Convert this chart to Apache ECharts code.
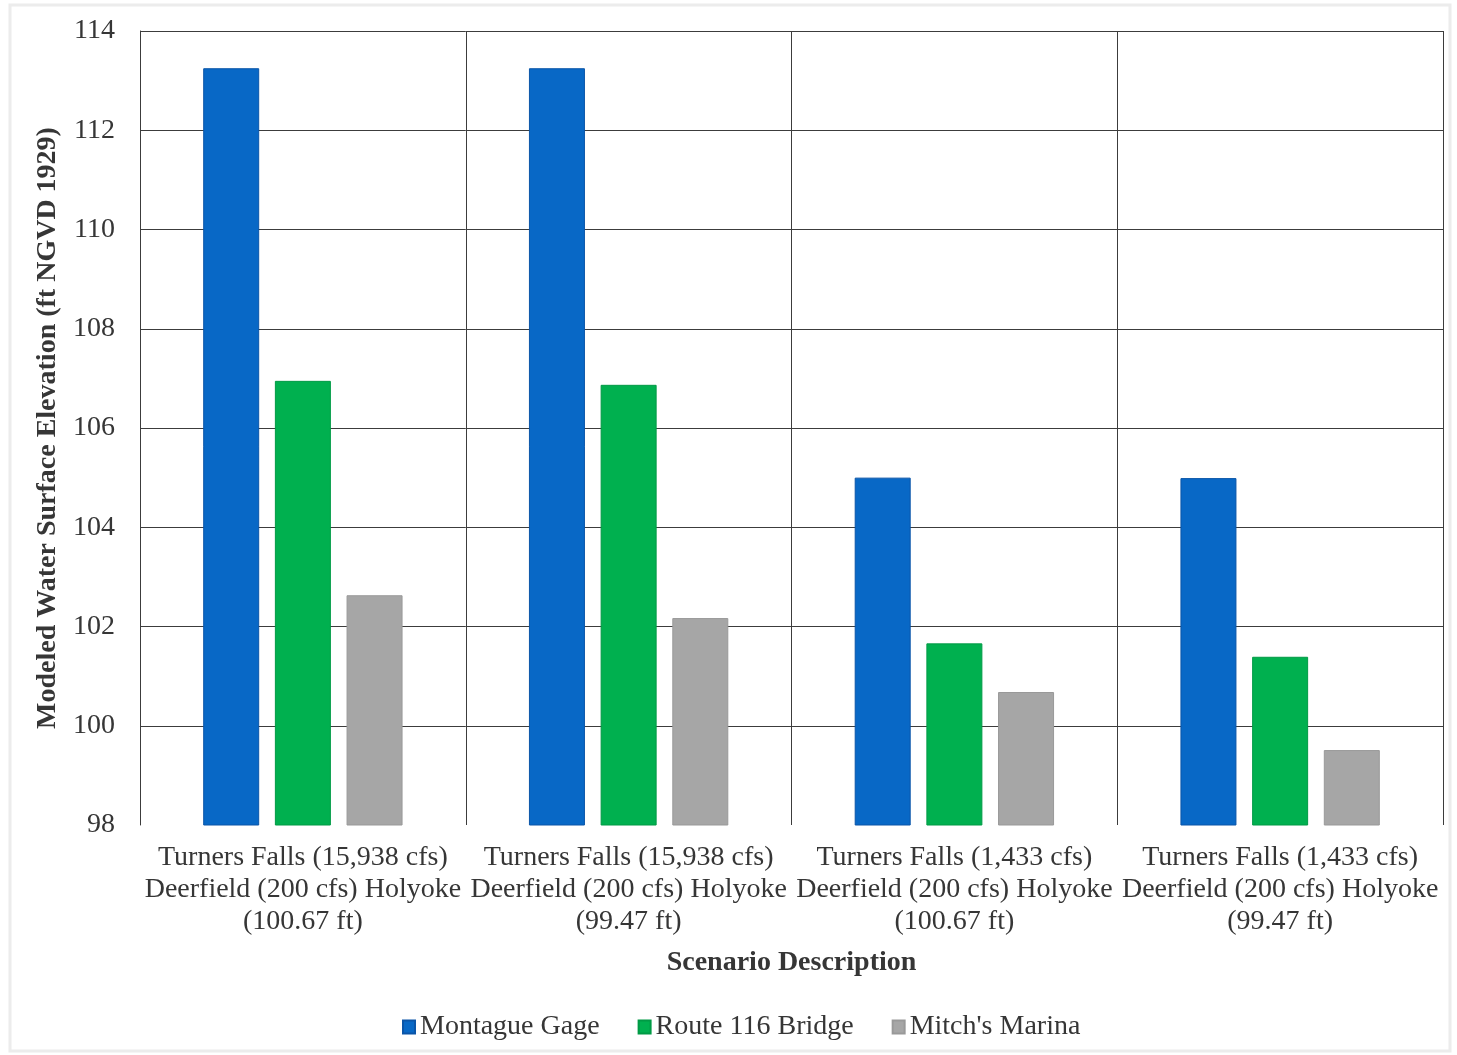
<!DOCTYPE html>
<html>
<head>
<meta charset="utf-8">
<script src="https://cdn.jsdelivr.net/npm/echarts@6/dist/echarts.min.js"></script>
<style>
  html, body { margin: 0; padding: 0; background: #ffffff; }
  #chart { width: 1457px; height: 1055px; }
</style>
</head>
<body>
<div id="chart"></div>
<script>
// Scenario labels (one per group of bars)
const categories = [
  'Turners Falls (15,938 cfs)\nDeerfield (200 cfs) Holyoke\n(100.67 ft)',
  'Turners Falls (15,938 cfs)\nDeerfield (200 cfs) Holyoke\n(99.47 ft)',
  'Turners Falls (1,433 cfs)\nDeerfield (200 cfs) Holyoke\n(100.67 ft)',
  'Turners Falls (1,433 cfs)\nDeerfield (200 cfs) Holyoke\n(99.47 ft)'
];

// Modeled water surface elevations (ft NGVD 1929)
const montagueGage = [113.25, 113.25, 105.0, 104.99];
const route116Bridge = [106.95, 106.87, 101.66, 101.39];
const mitchsMarina = [102.63, 102.17, 100.68, 99.51];

const seriesNames = ['Montague Gage', 'Route 116 Bridge', "Mitch's Marina"];

const FONT = '"Liberation Serif", "Times New Roman", serif';
const TEXT = '#363636';
const GRID = '#3c3c3c';

const chart = echarts.init(document.getElementById('chart'), null, { renderer: 'canvas' });

// hide the bottom (98) gridline, keep the rest
const splitColors = ['rgba(0,0,0,0)', GRID, GRID, GRID, GRID, GRID, GRID, GRID, GRID];

function barSeries(name, data, color, border) {
  return {
    name: name,
    type: 'bar',
    data: data,
    barWidth: 56,
    barGap: '28%',
    itemStyle: { color: color, borderColor: border, borderWidth: 1 }
  };
}

chart.setOption({
  backgroundColor: '#ffffff',
  animation: false,
  textStyle: { fontFamily: FONT },
  graphic: [{
    type: 'rect',
    shape: { x: 10, y: 5, width: 1440, height: 1046 },
    style: { fill: 'none', stroke: '#ececec', lineWidth: 3 },
    silent: true,
    z: -10
  }],
  grid: { left: 140, right: 14, top: 31, bottom: 230, containLabel: false },
  legend: {
    left: 397,
    top: 1008,
    itemWidth: 12,
    itemHeight: 13,
    itemGap: 38,
    icon: 'rect',
    textStyle: { fontFamily: FONT, fontSize: 28, color: TEXT },
    data: seriesNames
  },
  xAxis: {
    type: 'category',
    data: categories,
    name: 'Scenario Description',
    nameLocation: 'middle',
    nameGap: 124,
    nameTextStyle: { fontFamily: FONT, fontSize: 28, fontWeight: 'bold', color: TEXT },
    axisLine: { show: false },
    axisTick: { show: false },
    splitLine: { show: true, lineStyle: { color: GRID, width: 1 } },
    axisLabel: {
      fontFamily: FONT,
      fontSize: 28,
      lineHeight: 32,
      color: TEXT,
      margin: 17,
      interval: 0
    }
  },
  yAxis: {
    type: 'value',
    min: 98,
    max: 114,
    interval: 2,
    name: 'Modeled Water Surface Elevation (ft NGVD 1929)',
    nameLocation: 'middle',
    nameGap: 68,
    nameTextStyle: { fontFamily: FONT, fontSize: 28, fontWeight: 'bold', color: TEXT },
    axisLine: { show: true, lineStyle: { color: GRID, width: 1 } },
    axisTick: { show: false },
    splitLine: { show: true, lineStyle: { color: splitColors, width: 1 } },
    axisLabel: { fontFamily: FONT, fontSize: 28, color: TEXT, margin: 25 }
  },
  series: [
    barSeries(seriesNames[0], montagueGage, '#0868c6', '#0a55a8'),
    barSeries(seriesNames[1], route116Bridge, '#00b04f', '#009a45'),
    barSeries(seriesNames[2], mitchsMarina, '#a6a6a6', '#999999')
  ]
});
</script>
</body>
</html>
